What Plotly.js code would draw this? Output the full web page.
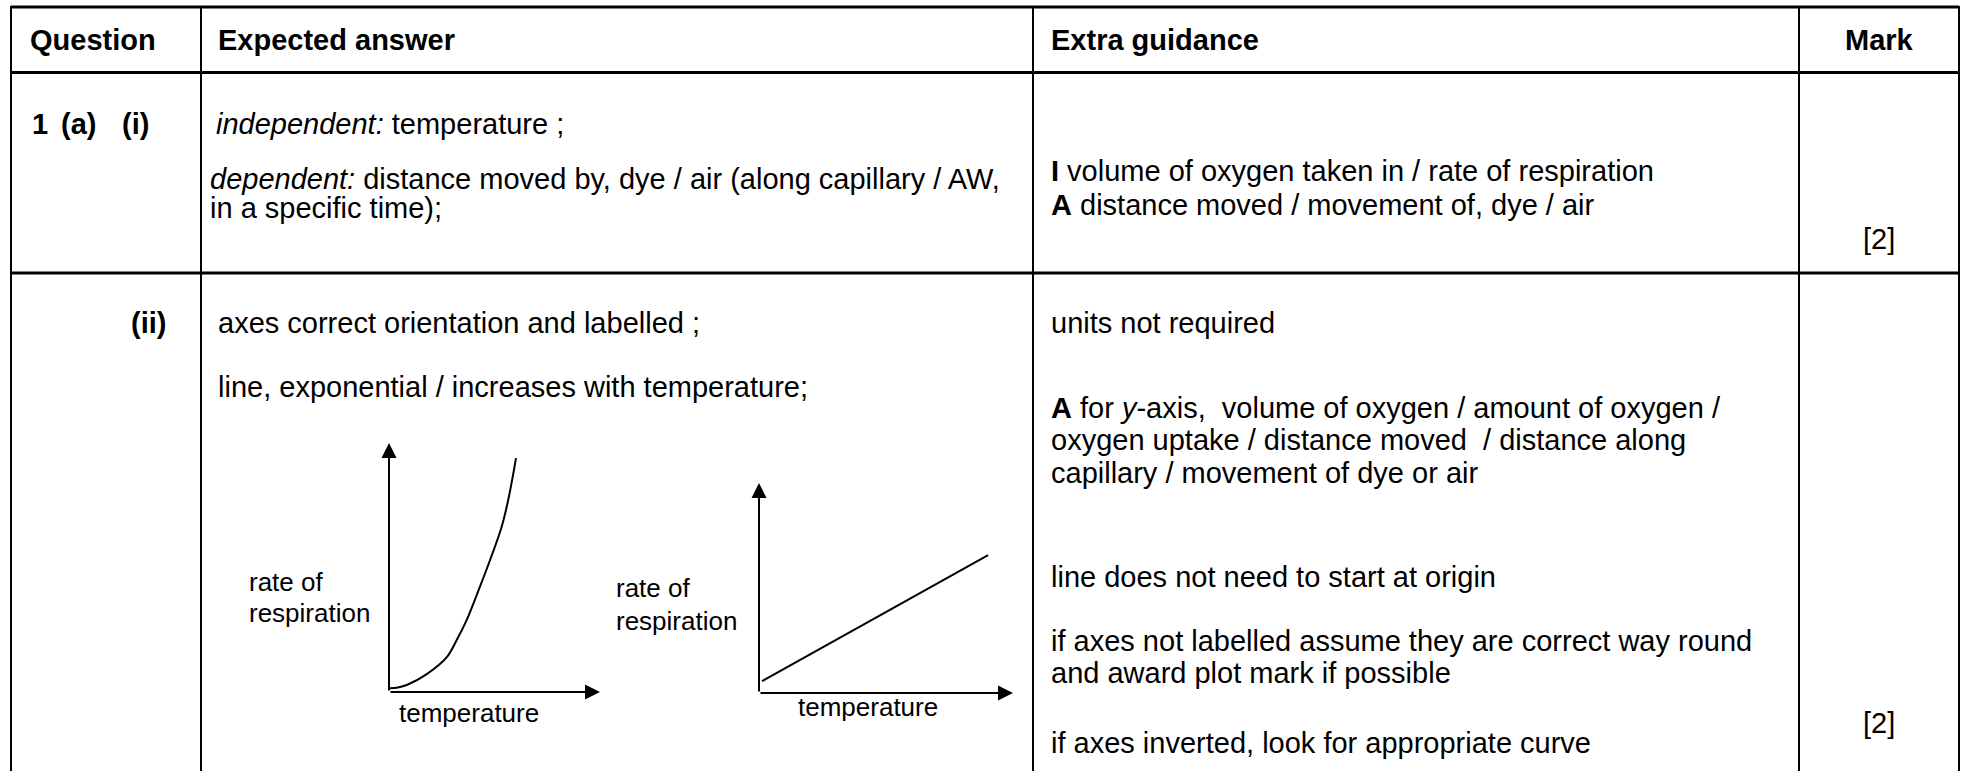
<!DOCTYPE html>
<html>
<head>
<meta charset="utf-8">
<script src="https://cdn.plot.ly/plotly-3.0.1.min.js"></script>
<style>
html,body{margin:0;padding:0;background:#fff;}
#chart{width:1962px;height:771px;}
</style>
</head>
<body>
<div id="chart"></div>
<script>
// ---------- data ----------
const headerLabels = ['Question', 'Expected answer', 'Extra guidance', 'Mark'];
const questionLabels = ['1', '(a)', '(i)', '(ii)'];
const row1Answer = ['<i>independent:</i> temperature ;',
  '<i>dependent:</i> distance moved by, dye / air (along capillary / AW,',
  'in a specific time);'];
const row1Guidance = ['<b>I</b> volume of oxygen taken in / rate of respiration',
  '<b>A</b> distance moved / movement of, dye / air'];
const row2Answer = ['axes correct orientation and labelled ;',
  'line, exponential / increases with temperature;'];
const row2Guidance = ['units not required',
  '<b>A</b> for <i>y</i>-axis,  volume of oxygen / amount of oxygen /',
  'oxygen uptake / distance moved  / distance along',
  'capillary / movement of dye or air',
  'line does not need to start at origin',
  'if axes not labelled assume they are correct way round',
  'and award plot mark if possible',
  'if axes inverted, look for appropriate curve'];
const marks = ['[2]', '[2]'];
const axisLabelY = ['rate of', 'respiration'];
const axisLabelX = 'temperature';

// sketch 1: exponential curve (arbitrary units 0-10)
const curveTemp = [0.05, 0.36, 0.84, 1.79, 2.73, 3.21, 3.68, 4.31, 4.79, 5.34, 5.65, 6.02];
const curveRate = [0.15, 0.17, 0.28, 0.72, 1.39, 2.09, 2.89, 4.23, 5.30, 6.64, 7.71, 9.39];
// sketch 2: straight line
const lineTemp = [0.12, 9.02];
const lineRate = [0.57, 6.57];

// ---------- layout helpers ----------
const W = 1962, H = 771;
const X = px => px / W;
const Y = py => 1 - py / H;
const FONT = 'Liberation Sans, Arial, sans-serif';
const FS = 29;

const annotations = [];
function txt(text, px, py, opts) {
  opts = opts || {};
  annotations.push({
    text: text, xref: 'paper', yref: 'paper', x: X(px), y: Y(py),
    xanchor: opts.xanchor || 'left', yanchor: 'middle', showarrow: false,
    align: opts.xanchor || 'left',
    font: {family: FONT, size: opts.size || FS, color: '#000'}
  });
}

// header
txt('<b>' + headerLabels[0] + '</b>', 28, 40);
txt('<b>' + headerLabels[1] + '</b>', 216, 40);
txt('<b>' + headerLabels[2] + '</b>', 1049, 40);
txt('<b>' + headerLabels[3] + '</b>', 1879, 40, {xanchor: 'center'});

// question labels
txt('<b>' + questionLabels[0] + '</b>', 30, 124);
txt('<b>' + questionLabels[1] + '</b>', 59, 124);
txt('<b>' + questionLabels[2] + '</b>', 120, 124);
txt('<b>' + questionLabels[3] + '</b>', 168, 323, {xanchor: 'right'});

// row 1
txt(row1Answer[0], 214, 124);
txt(row1Answer[1], 208, 179);
txt(row1Answer[2], 208, 208);
txt(row1Guidance[0], 1049, 171);
txt(row1Guidance[1], 1049, 205);
txt(marks[0], 1879, 239, {xanchor: 'center'});

// row 2
txt(row2Answer[0], 216, 323);
txt(row2Answer[1], 216, 387);
const g2y = [323, 408, 440, 473, 577, 641, 673, 743];
row2Guidance.forEach((t, i) => txt(t, 1049, g2y[i]));
txt(marks[1], 1879, 723, {xanchor: 'center'});

// sketch labels
const LS = 26;
txt(axisLabelY[0], 247, 582, {size: LS});
txt(axisLabelY[1], 247, 613, {size: LS});
txt(axisLabelX, 469, 713, {size: LS, xanchor: 'center'});
txt(axisLabelY[0], 614, 588, {size: LS});
txt(axisLabelY[1], 614, 621, {size: LS});
txt(axisLabelX, 868, 707, {size: LS, xanchor: 'center'});

// axis arrows for both sketches
function axisArrows(xr, yr) {
  const base = {xref: xr, yref: yr, axref: xr, ayref: yr, text: '', showarrow: true,
    arrowhead: 2, arrowsize: 1.5, arrowwidth: 2, arrowcolor: '#000', standoff: 0, startstandoff: 0};
  annotations.push(Object.assign({}, base, {x: 10, y: 0, ax: 0, ay: 0}));
  annotations.push(Object.assign({}, base, {x: 0, y: 10, ax: 0, ay: 0}));
}
axisArrows('x', 'y');
axisArrows('x2', 'y2');

// table rules
const shapes = [];
function rule(x0, y0, x1, y1, w) {
  shapes.push({type: 'line', xref: 'paper', yref: 'paper', x0: X(x0), y0: Y(y0), x1: X(x1), y1: Y(y1),
    line: {color: '#000', width: w}});
}
rule(11, 7, 1959, 7, 3);
rule(11, 72.5, 1959, 72.5, 3);
rule(11, 273, 1959, 273, 3);
[11, 201, 1033, 1799, 1959].forEach(x => rule(x, 6, x, 771, 2));

const hidden = {showgrid: false, zeroline: false, showticklabels: false, showline: false, ticks: '', fixedrange: true};

const traces = [
  {x: curveTemp, y: curveRate, xaxis: 'x', yaxis: 'y', type: 'scatter', mode: 'lines',
   line: {color: '#000', width: 2, shape: 'spline', smoothing: 1}, hoverinfo: 'skip', cliponaxis: false},
  {x: lineTemp, y: lineRate, xaxis: 'x2', yaxis: 'y2', type: 'scatter', mode: 'lines',
   line: {color: '#000', width: 2}, hoverinfo: 'skip', cliponaxis: false}
];

const layout = {
  width: W, height: H,
  margin: {l: 0, r: 0, t: 0, b: 0, pad: 0},
  paper_bgcolor: '#fff', plot_bgcolor: 'rgba(0,0,0,0)',
  showlegend: false,
  xaxis: Object.assign({domain: [X(389), X(600)], range: [0, 10], anchor: 'y'}, hidden),
  yaxis: Object.assign({domain: [Y(692), Y(443)], range: [0, 10], anchor: 'x'}, hidden),
  xaxis2: Object.assign({domain: [X(759), X(1013)], range: [0, 10], anchor: 'y2'}, hidden),
  yaxis2: Object.assign({domain: [Y(693), Y(483)], range: [0, 10], anchor: 'x2'}, hidden),
  annotations: annotations,
  shapes: shapes
};

Plotly.newPlot('chart', traces, layout, {displayModeBar: false, staticPlot: true});
</script>
</body>
</html>
